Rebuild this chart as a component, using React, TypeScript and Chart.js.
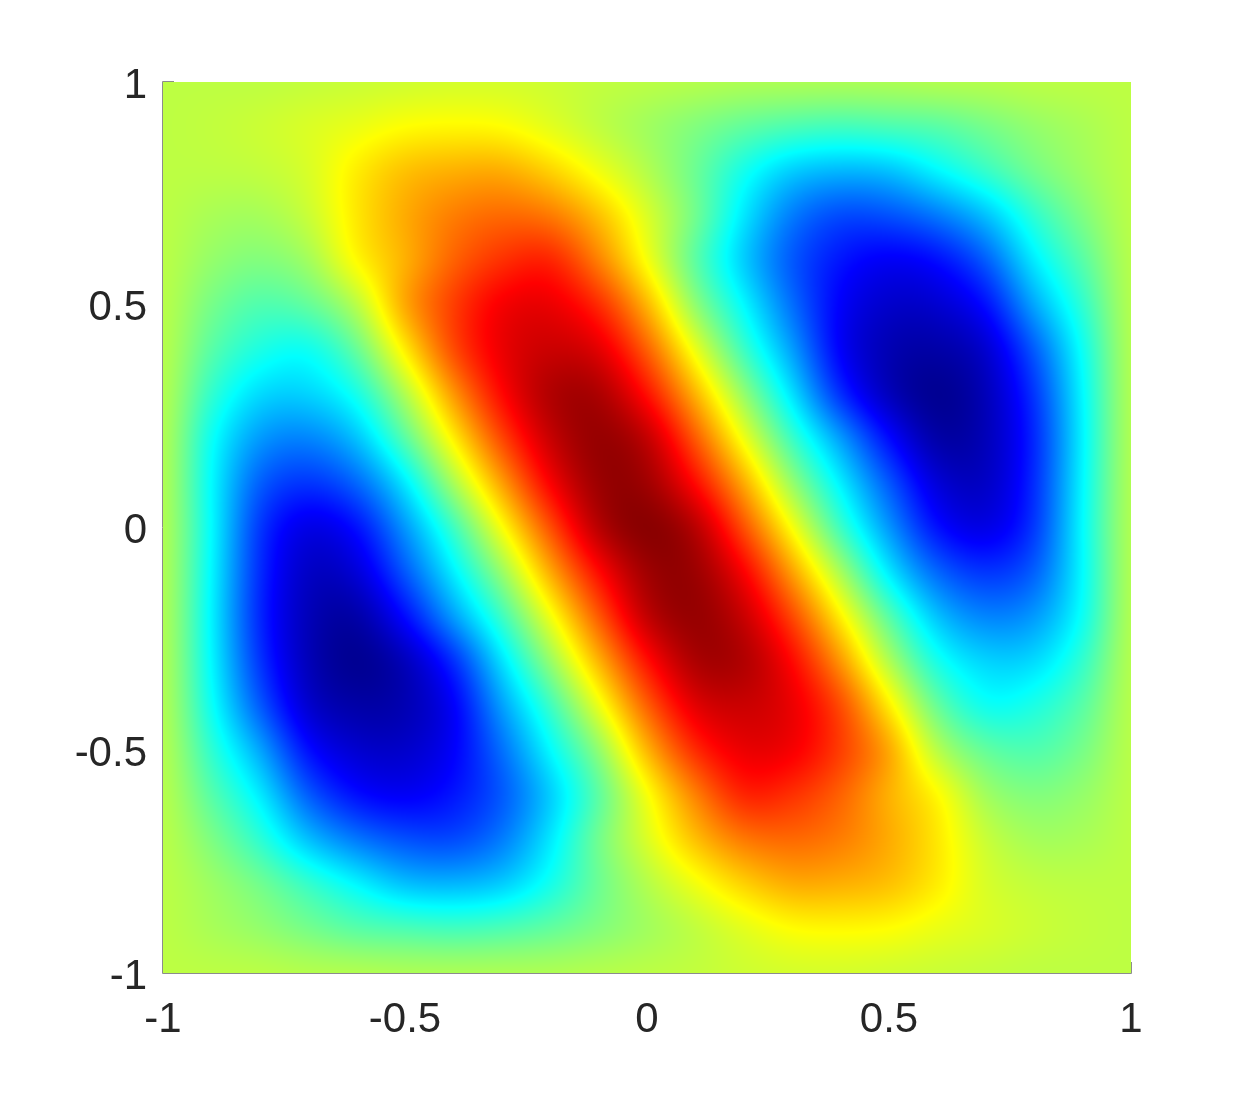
import React, { useEffect, useRef } from "react";
import { Chart, registerables } from "chart.js";

Chart.register(...registerables);

const xGrid = [-1, -0.9, -0.8, -0.7, -0.6, -0.5, -0.4, -0.3, -0.2, -0.1, 0, 0.1, 0.2, 0.3, 0.4, 0.5, 0.6, 0.7, 0.8, 0.9, 1];
const yGrid = [1, 0.9, 0.8, 0.7, 0.6, 0.5, 0.4, 0.3, 0.2, 0.1, 0, -0.1, -0.2, -0.3, -0.4, -0.5, -0.6, -0.7, -0.8, -0.9, -1];
const tickValues = [-1, -0.5, 0, 0.5, 1];

const rowP10 = [.56, .56, .56, .565, .57, .575, .58, .58, .575, .565, .56, .555, .55, .55, .55, .55, .555, .555, .56, .56, .56];
const rowP09 = [.56, .565, .575, .59, .605, .625, .63, .625, .595, .56, .53, .50, .47, .45, .44, .45, .46, .49, .52, .54, .56];
const rowP08 = [.56, .56, .565, .585, .645, .69, .705, .71, .67, .61, .55, .48, .39, .32, .30, .31, .37, .43, .49, .53, .56];
const rowP07 = [.56, .54, .535, .57, .65, .71, .755, .775, .76, .69, .59, .49, .35, .24, .19, .20, .24, .31, .42, .50, .56];
const rowP06 = [.56, .52, .50, .53, .635, .70, .78, .83, .85, .75, .615, .46, .32, .205, .14, .11, .13, .21, .36, .46, .56];
const rowP05 = [.56, .49, .45, .47, .55, .72, .82, .89, .90, .84, .70, .51, .37, .23, .115, .07, .075, .13, .29, .42, .56];
const rowP04 = [.56, .46, .40, .38, .47, .645, .81, .90, .93, .91, .785, .605, .43, .28, .11, .045, .035, .07, .21, .385, .56];
const rowP03 = [.56, .42, .335, .33, .39, .545, .73, .875, .96, .965, .865, .70, .52, .345, .16, .05, .01, .05, .17, .37, .56];
const rowP02 = [.56, .38, .27, .25, .31, .46, .64, .81, .935, .985, .945, .79, .61, .43, .28, .13, .03, .05, .155, .365, .56];
const rowP01 = [.56, .37, .21, .17, .22, .35, .54, .72, .885, .98, .975, .87, .71, .52, .36, .21, .08, .06, .16, .37, .56];
const rowZ00 = [.56, .375, .17, .09, .13, .27, .43, .62, .80, .955, 1, .955, .80, .62, .43, .27, .13, .09, .17, .375, .56];
const rowM01 = [.56, .37, .16, .06, .08, .21, .36, .52, .71, .87, .975, .98, .885, .72, .54, .35, .22, .17, .21, .37, .56];
const rowM02 = [.56, .365, .155, .05, .03, .13, .28, .43, .61, .79, .945, .985, .935, .81, .64, .46, .31, .25, .27, .38, .56];
const rowM03 = [.56, .37, .17, .05, .01, .05, .16, .345, .52, .70, .865, .965, .96, .875, .73, .545, .39, .33, .335, .42, .56];
const rowM04 = [.56, .385, .21, .07, .035, .045, .11, .28, .43, .605, .785, .91, .93, .90, .81, .645, .47, .38, .40, .46, .56];
const rowM05 = [.56, .42, .29, .13, .075, .07, .115, .23, .37, .51, .70, .84, .90, .89, .82, .72, .55, .47, .45, .49, .56];
const rowM06 = [.56, .46, .36, .21, .13, .11, .14, .205, .32, .46, .615, .75, .85, .83, .78, .70, .635, .53, .50, .52, .56];
const rowM07 = [.56, .50, .42, .31, .24, .20, .19, .24, .35, .49, .59, .69, .76, .775, .755, .71, .65, .57, .535, .54, .56];
const rowM08 = [.56, .53, .49, .43, .37, .31, .30, .32, .39, .48, .55, .61, .67, .71, .705, .69, .645, .585, .565, .56, .56];
const rowM09 = [.56, .54, .52, .49, .46, .45, .44, .45, .47, .50, .53, .56, .595, .625, .63, .625, .605, .59, .575, .565, .56];
const rowM10 = [.56, .56, .56, .555, .555, .55, .55, .55, .55, .555, .56, .565, .575, .58, .58, .575, .57, .565, .56, .56, .56];

const rows = [rowP10, rowP09, rowP08, rowP07, rowP06, rowP05, rowP04, rowP03, rowP02, rowP01, rowZ00, rowM01, rowM02, rowM03, rowM04, rowM05, rowM06, rowM07, rowM08, rowM09, rowM10];

const clamp01 = (v: number) => Math.max(0, Math.min(1, v));
const jet = (t: number): [number, number, number] => {
  const c = clamp01(t);
  return [
    255 * clamp01(Math.min(4 * c - 1.5, -4 * c + 4.5)),
    255 * clamp01(Math.min(4 * c - 0.5, -4 * c + 3.5)),
    255 * clamp01(Math.min(4 * c + 0.5, -4 * c + 2.5)),
  ];
};

// Cubic display shading between the grid samples (like MATLAB's "shading interp").
const cr = (a: number, b: number, c: number, d: number, s: number) =>
  0.5 * (2 * b + (c - a) * s + (2 * a - 5 * b + 4 * c - d) * s * s + (3 * b - a - 3 * c + d) * s * s * s);
const bs = (a: number, b: number, c: number, d: number, s: number) => {
  const i = 1 - s;
  return (i * i * i * a + (3 * s * s * s - 6 * s * s + 4) * b + (-3 * s * s * s + 3 * s * s + 3 * s + 1) * c + s * s * s * d) / 6;
};
const mix = (a: number, b: number, c: number, d: number, s: number) =>
  0.55 * cr(a, b, c, d, s) + 0.45 * bs(a, b, c, d, s);
const at = (r: number, c: number) =>
  rows[Math.max(0, Math.min(rows.length - 1, r))][Math.max(0, Math.min(xGrid.length - 1, c))];
const shade = (x: number, y: number) => {
  const fc = ((x - xGrid[0]) / (xGrid[xGrid.length - 1] - xGrid[0])) * (xGrid.length - 1);
  const fr = ((y - yGrid[0]) / (yGrid[yGrid.length - 1] - yGrid[0])) * (yGrid.length - 1);
  const c0 = Math.max(0, Math.min(xGrid.length - 2, Math.floor(fc)));
  const r0 = Math.max(0, Math.min(yGrid.length - 2, Math.floor(fr)));
  const s = fc - c0;
  const u = fr - r0;
  const line = (r: number) => mix(at(r, c0 - 1), at(r, c0), at(r, c0 + 1), at(r, c0 + 2), s);
  return mix(line(r0 - 1), line(r0), line(r0 + 1), line(r0 + 2), u);
};

const surfacePlugin = {
  id: "surface",
  beforeDatasetsDraw(chart: any) {
    const { ctx, chartArea: a, scales } = chart;
    const w = Math.round(a.right - a.left);
    const h = Math.round(a.bottom - a.top);
    const img = ctx.createImageData(w, h);
    for (let j = 0; j < h; j++) {
      const yv = scales.y.getValueForPixel(a.top + j + 0.5);
      for (let i = 0; i < w; i++) {
        const xv = scales.x.getValueForPixel(a.left + i + 0.5);
        const [r, g, b] = jet(shade(xv, yv));
        const k = (j * w + i) * 4;
        img.data[k] = r;
        img.data[k + 1] = g;
        img.data[k + 2] = b;
        img.data[k + 3] = 255;
      }
    }
    ctx.putImageData(img, Math.round(a.left), Math.round(a.top));
  },
  afterDraw(chart: any) {
    const { ctx, scales } = chart;
    ctx.save();
    ctx.strokeStyle = "#8c8c8c";
    ctx.lineWidth = 1;
    const l = scales.x.getPixelForValue(-1);
    const t = scales.y.getPixelForValue(1);
    const r = scales.x.getPixelForValue(1);
    const b = scales.y.getPixelForValue(-1);
    ctx.beginPath();
    ctx.moveTo(l - 0.5, t - 0.5);
    ctx.lineTo(l + 11, t - 0.5);
    ctx.moveTo(l - 0.5, t - 0.5);
    ctx.lineTo(l - 0.5, b + 0.5);
    ctx.lineTo(r + 0.5, b + 0.5);
    ctx.lineTo(r + 0.5, b - 11);
    ctx.stroke();
    ctx.restore();
  },
};

export default function App() {
  const ref = useRef<HTMLCanvasElement>(null);
  useEffect(() => {
    const font = { family: '"Liberation Sans", Arial, sans-serif', size: 42 };
    const points = yGrid.flatMap((y, r) => xGrid.map((x, c) => ({ x, y, v: rows[r][c] })));
    const chart = new Chart(ref.current as HTMLCanvasElement, {
      type: "scatter",
      data: { datasets: [{ label: "u", data: points, pointRadius: 0, pointHoverRadius: 0 }] },
      options: {
        animation: false,
        responsive: false,
        layout: { padding: { left: 0, top: 82, right: 119, bottom: 0 } },
        plugins: { legend: { display: false }, tooltip: { enabled: false } },
        scales: {
          x: {
            type: "linear",
            min: -1,
            max: 1,
            afterBuildTicks: (s: any) => { s.ticks = tickValues.map((value) => ({ value })); },
            afterFit: (s: any) => { s.height = 121; },
            ticks: { font, color: "#262626", padding: 22, maxRotation: 0, autoSkip: false, callback: (v: any) => String(v) },
            grid: { display: false, drawTicks: false },
            border: { display: false },
          },
          y: {
            type: "linear",
            min: -1,
            max: 1,
            afterBuildTicks: (s: any) => { s.ticks = tickValues.map((value) => ({ value })); },
            afterFit: (s: any) => { s.width = 163; },
            ticks: { font, color: "#262626", padding: 16, labelOffset: 4, autoSkip: false, callback: (v: any) => String(v) },
            grid: { display: false, drawTicks: false },
            border: { display: false },
          },
        },
      },
      plugins: [surfacePlugin],
    } as any);
    return () => chart.destroy();
  }, []);
  return (
    <canvas
      ref={ref}
      width={1250}
      height={1094}
      style={{ position: "absolute", left: 0, top: 0, display: "block" }}
    />
  );
}
